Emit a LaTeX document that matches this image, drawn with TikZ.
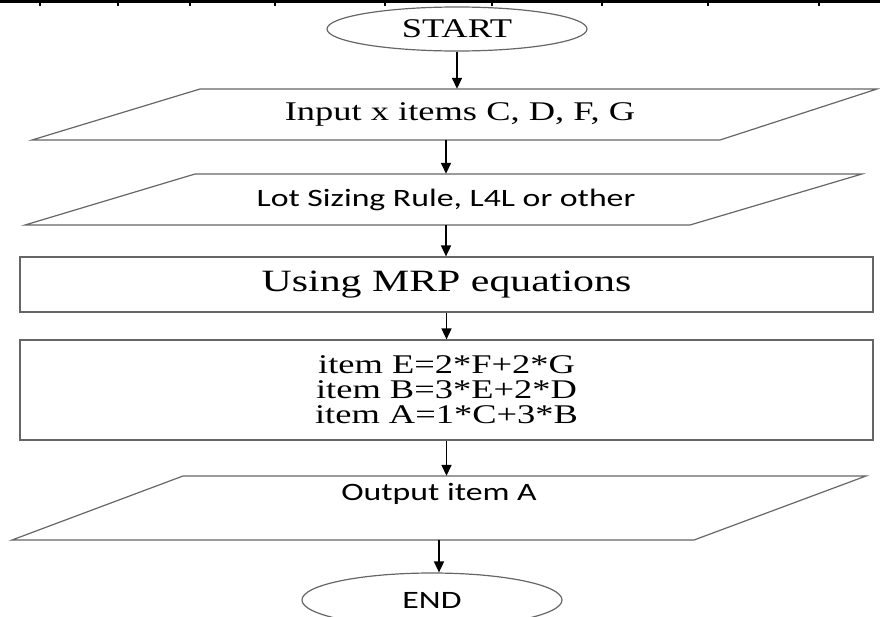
\documentclass[tikz,border=0pt]{standalone}
\usepackage{fontspec}
\usepackage{graphicx}
\setmainfont{Liberation Serif}
\newfontfamily\calib{Carlito}
\usetikzlibrary{shapes.geometric,arrows.meta}

\definecolor{edge}{HTML}{666666}

\tikzset{
  outline/.style={draw=edge, line width=1.2pt},
  flow/.style={-{Triangle[length=11pt,width=10pt]}, line width=1.6pt, black},
  frame/.style={inner sep=0pt, minimum height=#1},
  serif/.style={font=\fontsize{27}{25}\selectfont},
  bigserif/.style={font=\fontsize{31}{34}\selectfont},
  sans/.style={font=\calib\fontsize{25}{28}\selectfont},
}
\newcommand\wide[1]{\scalebox{1.35}[1]{#1}}

\begin{document}
\begin{tikzpicture}[x=1pt,y=-1pt]
\useasboundingbox (0,0) rectangle (880,616);

% ruled edge along the top
\draw[line width=3pt] (0,1.5) -- (880,1.5);
\foreach \t in {40,118,190,275,385,492,602,708,819}
  \draw[line width=1.5pt] (\t,0) -- (\t,6);

% terminator: start
\node[outline, ellipse, inner sep=0pt, minimum width=260, minimum height=44, serif]
  (start) at (457,29) {\wide{START}};

% input data
\draw[outline] (32,140) -- (720,140) -- (877,89) -- (200,89) -- cycle;
\node[frame=51, serif] (input) at (460,114.5) {\wide{Input x items C, D, F, G}};

% lot sizing
\draw[outline] (25,225) -- (690,225) -- (862,174) -- (195,174) -- cycle;
\node[frame=51, sans] (lot) at (446,199.5) {\wide{Lot Sizing Rule, L4L or other}};

% process boxes
\node[outline, inner sep=0pt, minimum width=853, minimum height=55, bigserif]
  (mrp) at (446.5,284.5) {\wide{Using MRP equations}};
\node[outline, inner sep=0pt, minimum width=853, minimum height=100, serif, align=center]
  (eq) at (446.5,390) {\wide{item E=2*F+2*G}\\ \wide{item B=3*E+2*D}\\ \wide{item A=1*C+3*B}};

% output data
\draw[outline] (12,540) -- (694,540) -- (866,476) -- (183,476) -- cycle;
\node[frame=64, sans] (out) at (439,508)
  {\raisebox{8pt}[0pt][0pt]{\wide{Output item A}}};

% terminator: end
\node[outline, ellipse, inner sep=0pt, minimum width=260, minimum height=54, sans]
  (end) at (432,600) {\wide{END}};

% connectors
\draw[flow] (start.south) -- (start.south |- input.north);
\draw[flow] ([xshift=-14]input.south) -- ([xshift=-14]input.south |- lot.north);
\draw[flow] (lot.south) -- (lot.south |- mrp.north);
\draw[flow] (mrp.south) -- (mrp.south |- eq.north);
\draw[flow] (eq.south) -- (eq.south |- out.north);
\draw[flow] (out.south) -- (out.south |- end.north);
\end{tikzpicture}
\end{document}
